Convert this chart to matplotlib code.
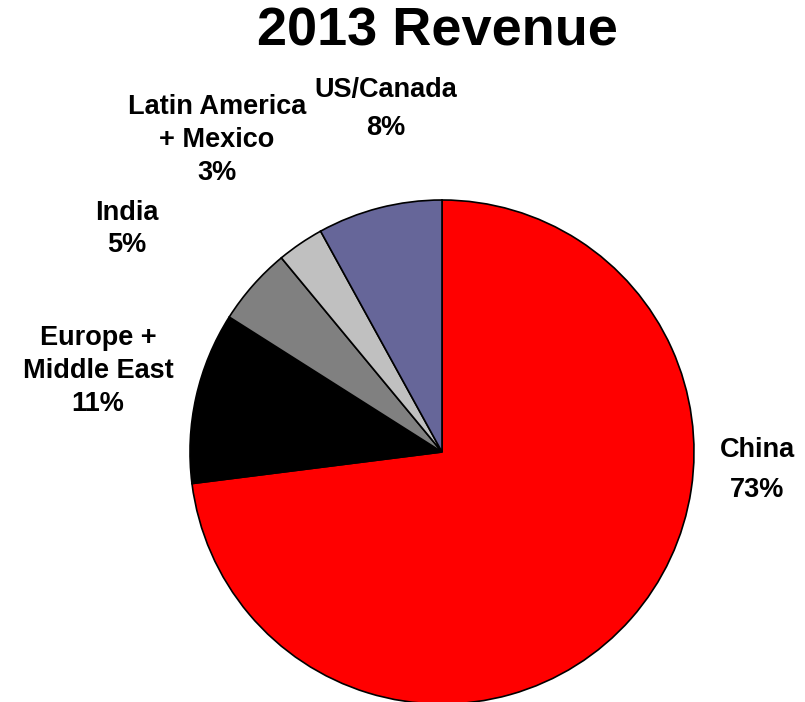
import matplotlib
matplotlib.use("Agg")
import matplotlib.pyplot as plt

# 2013 revenue share by region
regions = ["China", "Europe +\nMiddle East", "India", "Latin America\n+ Mexico", "US/Canada"]
shares = [73, 11, 5, 3, 8]
colors = ["#FF0000", "#000000", "#808080", "#C0C0C0", "#666699"]

# label anchor points (pixel space, y measured from bottom) and line spacing
label_xy = [(757, 232), (98, 331), (127, 473), (217, 562), (386, 593)]
label_spacing = [1.72, 1.37, 1.25, 1.35, 1.64]

plt.rcParams["font.family"] = ["Liberation Sans", "DejaVu Sans"]

W, H = 805, 702
fig = plt.figure(figsize=(W / 100, H / 100), dpi=100)
ax = fig.add_axes([0, 0, 1, 1])

ax.pie(shares, colors=colors, startangle=90, counterclock=False,
       center=(442, H - 452), radius=252,
       wedgeprops=dict(edgecolor="black", linewidth=1.2))

# pie() rescales the axes, so pin the pixel-space limits afterwards
ax.set_xlim(0, W)
ax.set_ylim(0, H)
ax.set_aspect("equal")
ax.axis("off")

for name, val, (x, y), ls in zip(regions, shares, label_xy, label_spacing):
    ax.text(x, y, f"{name}\n{val}%", ha="center", va="center",
            fontsize=19.5, fontweight="bold", linespacing=ls)

ax.text(437, H - 32, "2013 Revenue", ha="center", va="center",
        fontsize=39, fontweight="bold")

fig.savefig("out.png", dpi=100)
